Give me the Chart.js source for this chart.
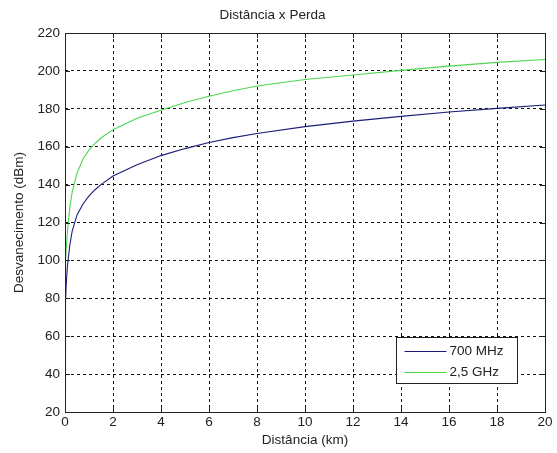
<!DOCTYPE html>
<html>
<head>
<meta charset="utf-8">
<script src="https://cdn.jsdelivr.net/npm/chart.js@4"></script>
<style>
  html, body { margin: 0; padding: 0; background: #fff; }
  #chart { display: block; }
</style>
</head>
<body>
<canvas id="chart" width="557" height="453"></canvas>
<script>
// distances (km) and path loss (dB)
const distance = [0.001, 0.01, 0.03, 0.05, 0.1, 0.2, 0.3, 0.5, 0.75, 1, 1.25, 1.5, 2, 3, 4, 5, 6, 7, 8, 10, 12, 14, 16, 18, 20];
const loss700 = [28, 62, 78, 87, 97, 108, 115.5, 124, 129.8, 134, 137.3, 140, 144.5, 150.5, 155.3, 159, 162.2, 164.8, 167, 170.6, 173.5, 176, 178.3, 180.2, 182];
const loss2500 = [52, 84, 99, 106, 115, 128, 136, 146, 153.5, 158.3, 161.8, 164.6, 169, 175, 179.2, 183.3, 186.6, 189.5, 192, 195.5, 197.8, 200.3, 202.5, 204.5, 206];

const seriesLabels = ['700 MHz', '2,5 GHz'];
const seriesColors = ['#1c1c78', '#4fd64f'];

const xTicks = [0, 2, 4, 6, 8, 10, 12, 14, 16, 18, 20];
const yTicks = [20, 40, 60, 80, 100, 120, 140, 160, 180, 200, 220];

const FONT = 'Liberation Sans, Arial, sans-serif';
const toPoints = ys => distance.map((d, i) => ({ x: d, y: ys[i] }));

// box, inward ticks and legend, matlab style
const matlabFrame = {
  id: 'matlabFrame',
  afterDraw(chart) {
    const { ctx, chartArea: a, scales } = chart;
    const tl = 5;
    ctx.save();
    ctx.strokeStyle = '#222';
    ctx.lineWidth = 1;
    ctx.setLineDash([]);
    ctx.beginPath();
    xTicks.forEach(v => {
      const px = Math.round(scales.x.getPixelForValue(v)) + 0.5;
      ctx.moveTo(px, a.bottom); ctx.lineTo(px, a.bottom - tl);
      ctx.moveTo(px, a.top); ctx.lineTo(px, a.top + tl);
    });
    yTicks.forEach(v => {
      const py = Math.round(scales.y.getPixelForValue(v)) + 0.5;
      ctx.moveTo(a.left, py); ctx.lineTo(a.left + tl, py);
      ctx.moveTo(a.right, py); ctx.lineTo(a.right - tl, py);
    });
    ctx.stroke();
    ctx.strokeRect(Math.round(a.left) + 0.5, Math.round(a.top) + 0.5,
      Math.round(a.right - a.left), Math.round(a.bottom - a.top));

    // legend in the lower right corner
    const lx = 396.5, ly = 337.5, lw = 121, lh = 46;
    ctx.fillStyle = '#fff';
    ctx.fillRect(lx, ly, lw, lh);
    ctx.strokeRect(lx, ly, lw, lh);
    ctx.font = '13.5px ' + FONT;
    ctx.textBaseline = 'middle';
    chart.data.datasets.forEach((ds, i) => {
      const y = ly + 14 + i * 21;
      ctx.strokeStyle = ds.borderColor;
      ctx.beginPath();
      ctx.moveTo(lx + 8, y); ctx.lineTo(lx + 50, y);
      ctx.stroke();
      ctx.fillStyle = '#222';
      ctx.fillText(ds.label, lx + 53, y);
    });
    ctx.restore();
  }
};

new Chart(document.getElementById('chart'), {
  type: 'line',
  data: {
    datasets: [
      { label: seriesLabels[0], data: toPoints(loss700), borderColor: seriesColors[0] },
      { label: seriesLabels[1], data: toPoints(loss2500), borderColor: seriesColors[1] }
    ]
  },
  options: {
    responsive: false,
    animation: false,
    devicePixelRatio: 1,
    layout: { padding: { top: 0, right: 12, bottom: 0, left: 0 } },
    elements: {
      line: { borderWidth: 1.1, tension: 0, fill: false },
      point: { radius: 0 }
    },
    plugins: {
      legend: { display: false },
      tooltip: { enabled: false },
      title: {
        display: true,
        text: 'Distância x Perda',
        color: '#222',
        font: { family: FONT, size: 13.5, weight: 'normal' },
        padding: { top: 7, bottom: 9.8 }
      }
    },
    scales: {
      x: {
        type: 'linear',
        min: 0,
        max: 20,
        afterFit: s => { s.height = 41; },
        afterBuildTicks: s => { s.ticks = xTicks.map(v => ({ value: v })); },
        ticks: { color: '#222', padding: 2, maxRotation: 0, font: { family: FONT, size: 13.5 } },
        grid: { color: '#111', lineWidth: 1, drawTicks: false },
        border: { display: false, dash: [3, 3] },
        title: {
          display: true,
          text: 'Distância (km)',
          color: '#222',
          font: { family: FONT, size: 13.5 },
          padding: { top: 0, bottom: 4.9 }
        }
      },
      y: {
        min: 20,
        max: 220,
        afterFit: s => { s.width = 65; },
        afterBuildTicks: s => { s.ticks = yTicks.map(v => ({ value: v })); },
        ticks: { color: '#222', padding: 5, font: { family: FONT, size: 13.5 } },
        grid: { color: '#111', lineWidth: 1, drawTicks: false },
        border: { display: false, dash: [3, 3] },
        title: {
          display: true,
          text: 'Desvanecimento (dBm)',
          color: '#222',
          font: { family: FONT, size: 13.5 },
          padding: { top: 10.9, bottom: 0 }
        }
      }
    }
  },
  plugins: [matlabFrame]
});
</script>
</body>
</html>
